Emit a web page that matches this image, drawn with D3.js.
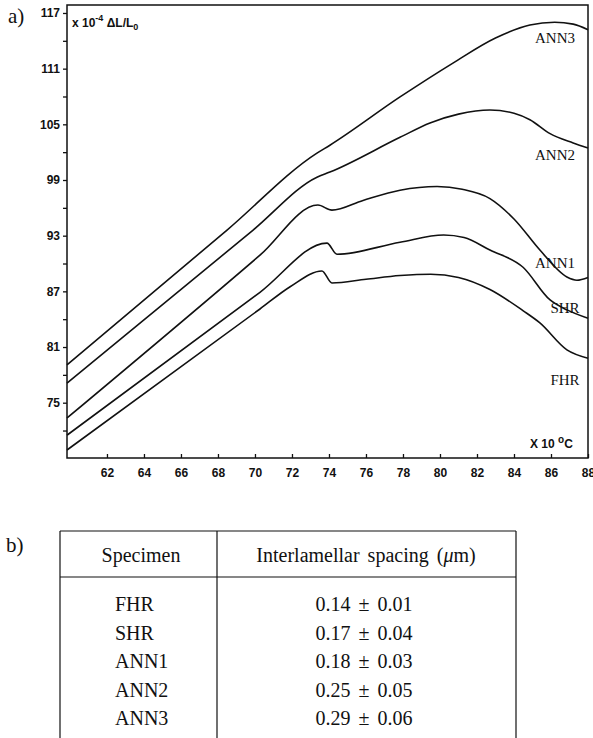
<!DOCTYPE html>
<html>
<head>
<meta charset="utf-8">
<script src="https://cdn.jsdelivr.net/npm/d3@7"></script>
<style>
  body { margin: 0; background: #fff; }
  .tick text { font-family: "Liberation Sans", Arial, sans-serif; font-weight: bold; font-size: 12px; fill: #111; }
  .serif { font-family: "Liberation Serif", "Times New Roman", serif; fill: #111; }
</style>
</head>
<body>
<div id="chart"></div>
<script>
// dilatometry curves, x in units of 10 degC, y in units of 1e-4 dL/L0
var fhr = [[59.84, 69.9], [70.27, 85.1], [71.9, 87.5], [73.62, 89.2], [74.16, 87.9], [76.0, 88.3],
  [77.84, 88.7], [79.5, 88.85], [81.0, 88.5], [82.7, 87.2], [84.5, 84.9], [85.4, 83.6], [86.86, 80.7], [88.0, 79.8]];
var shr = [[59.84, 71.5], [70.27, 86.9], [73.89, 92.2], [74.43, 91.0], [77.84, 92.3], [80.2, 93.07],
  [81.3, 92.8], [82.7, 91.45], [84.49, 89.6], [85.95, 86.07], [86.86, 85.0], [88.0, 84.1]];
var ann1 = [[59.84, 73.35], [70.27, 90.9], [73.4, 96.3], [74.16, 95.75], [75.84, 96.8], [77.84, 97.9],
  [79.84, 98.3], [81.2, 98.0], [82.7, 97.0], [84.0, 94.8], [85.4, 91.45], [86.86, 88.55], [87.4, 88.2], [88.0, 88.5]];
var ann2 = [[59.84, 77.1], [69.9, 93.6], [73.35, 99.3], [74.05, 99.85], [77.84, 103.6], [79.46, 105.15],
  [81.0, 106.1], [82.7, 106.55], [84.0, 106.2], [84.86, 105.5], [85.95, 104.0], [87.2, 103.0], [88.0, 102.45]];
var ann3 = [[59.84, 79.07], [68.49, 93.6], [73.35, 101.9], [74.05, 102.75], [77.84, 107.95], [80.7, 111.6],
  [83.0, 114.3], [84.86, 115.7], [86.2, 116.0], [87.2, 115.8], [88.0, 115.2]];

var curveNames = ["ANN3", "ANN2", "ANN1", "SHR", "FHR"];
var curveData = [ann3, ann2, ann1, shr, fhr];
var labelPos = [[555, 43], [555, 160], [555, 268], [565, 313], [565, 385]];

var xTicks = [62, 64, 66, 68, 70, 72, 74, 76, 78, 80, 82, 84, 86, 88];
var yTicks = [75, 81, 87, 93, 99, 105, 111, 117];
var yMinor = [72, 78, 84, 90, 96, 102, 108, 114];

// table b)
var specimens = ["FHR", "SHR", "ANN1", "ANN2", "ANN3"];
var spacing = ["0.14 \u00b1 0.01", "0.17 \u00b1 0.04", "0.18 \u00b1 0.03", "0.25 \u00b1 0.05", "0.29 \u00b1 0.06"];

var width = 593;
var height = 738;
var plotLeft = 67, plotRight = 588, plotTop = 5, plotBottom = 458;

var svg = d3.select("#chart").append("svg")
  .attr("width", width)
  .attr("height", height);

var xScale = d3.scaleLinear().domain([59.84, 88]).range([plotLeft, plotRight]);
var yScale = d3.scaleLinear().domain([69.04, 117.86]).range([plotBottom, plotTop]);

// frame
svg.append("rect")
  .attr("x", plotLeft).attr("y", plotTop)
  .attr("width", plotRight - plotLeft).attr("height", plotBottom - plotTop)
  .attr("fill", "none").attr("stroke", "#111").attr("stroke-width", 1.5);

// axes
svg.append("g")
  .attr("transform", "translate(0," + plotBottom + ")")
  .call(d3.axisBottom(xScale).tickValues(xTicks).tickSize(-4).tickPadding(10))
  .call(function(g) { g.select(".domain").remove(); });

svg.append("g")
  .attr("transform", "translate(" + plotLeft + ",0)")
  .call(d3.axisLeft(yScale).tickValues(yTicks).tickSize(4).tickPadding(3))
  .call(function(g) { g.select(".domain").remove(); });

svg.append("g")
  .attr("transform", "translate(" + plotLeft + ",0)")
  .call(d3.axisLeft(yScale).tickValues(yMinor).tickSize(4).tickFormat(""))
  .call(function(g) { g.select(".domain").remove(); });

svg.selectAll(".tick line").attr("stroke", "#111").attr("stroke-width", 1.3);

// curves
var line = d3.line()
  .x(function(d) { return xScale(d[0]); })
  .y(function(d) { return yScale(d[1]); })
  .curve(d3.curveMonotoneX);

svg.selectAll("path.curve")
  .data(curveData)
  .enter()
  .append("path")
  .attr("class", "curve")
  .attr("d", line)
  .attr("fill", "none")
  .attr("stroke", "#111")
  .attr("stroke-width", 1.6);

svg.selectAll("text.clabel")
  .data(curveNames)
  .enter()
  .append("text")
  .attr("class", "clabel serif")
  .attr("x", function(d, i) { return labelPos[i][0]; })
  .attr("y", function(d, i) { return labelPos[i][1]; })
  .attr("text-anchor", "middle")
  .attr("font-size", 15)
  .text(function(d) { return d; });

// axis titles
var yTitle = svg.append("text")
  .attr("x", 72).attr("y", 27)
  .attr("font-family", "Liberation Sans, Arial, sans-serif")
  .attr("font-weight", "bold")
  .attr("font-size", 12)
  .attr("fill", "#111");
yTitle.append("tspan").text("x 10");
yTitle.append("tspan").attr("dy", -6).attr("font-size", 9).text("-4");
yTitle.append("tspan").attr("dy", 6).text(" \u0394L/L");
yTitle.append("tspan").attr("dy", 3).attr("font-size", 9).text("0");

var xTitle = svg.append("text")
  .attr("x", 530).attr("y", 448)
  .attr("font-family", "Liberation Sans, Arial, sans-serif")
  .attr("font-weight", "bold")
  .attr("font-size", 12)
  .attr("fill", "#111");
xTitle.append("tspan").text("X 10 ");
xTitle.append("tspan").attr("dy", -5).attr("font-size", 10).text("o");
xTitle.append("tspan").attr("dy", 5).text("C");

svg.append("text").attr("class", "serif")
  .attr("x", 8).attr("y", 23).attr("font-size", 21).text("a)");

// table
svg.append("text").attr("class", "serif")
  .attr("x", 6).attr("y", 552).attr("font-size", 21).text("b)");

var tLeft = 60, tRight = 516, tMid = 217, tTop = 531, tHead = 577;
var tg = svg.append("g").attr("stroke", "#111").attr("stroke-width", 1.2);
tg.append("line").attr("x1", tLeft).attr("x2", tRight).attr("y1", tTop).attr("y2", tTop);
tg.append("line").attr("x1", tLeft).attr("x2", tRight).attr("y1", tHead).attr("y2", tHead);
tg.append("line").attr("x1", tLeft).attr("x2", tLeft).attr("y1", tTop).attr("y2", height);
tg.append("line").attr("x1", tMid).attr("x2", tMid).attr("y1", tTop).attr("y2", height);
tg.append("line").attr("x1", tRight).attr("x2", tRight).attr("y1", tTop).attr("y2", height);

svg.append("text").attr("class", "serif")
  .attr("x", 141).attr("y", 562).attr("text-anchor", "middle").attr("font-size", 20)
  .text("Specimen");
var hdr = svg.append("text").attr("class", "serif")
  .attr("x", 366).attr("y", 562).attr("text-anchor", "middle").attr("font-size", 20)
  .attr("word-spacing", 3);
hdr.append("tspan").text("Interlamellar spacing (");
hdr.append("tspan").attr("font-style", "italic").text("\u03bc");
hdr.append("tspan").text("m)");

var rowY = d3.scaleLinear().domain([0, 4]).range([611, 725]);

svg.selectAll("text.spec")
  .data(specimens)
  .enter()
  .append("text")
  .attr("class", "spec serif")
  .attr("x", 115)
  .attr("y", function(d, i) { return rowY(i); })
  .attr("font-size", 20)
  .text(function(d) { return d; });

svg.selectAll("text.val")
  .data(spacing)
  .enter()
  .append("text")
  .attr("class", "val serif")
  .attr("x", 364)
  .attr("y", function(d, i) { return rowY(i); })
  .attr("text-anchor", "middle")
  .attr("font-size", 20)
  .attr("word-spacing", 3)
  .text(function(d) { return d; });
</script>
</body>
</html>
